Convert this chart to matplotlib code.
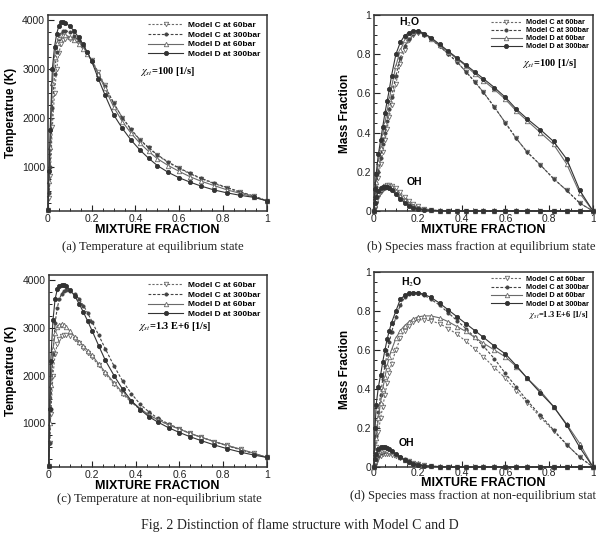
import matplotlib
matplotlib.use("Agg")
import matplotlib.pyplot as plt
from matplotlib.ticker import MultipleLocator

plt.rcParams['font.family'] = ['Liberation Sans', 'DejaVu Sans']
plt.rcParams['mathtext.fontset'] = 'stix'

# mixture fraction grid shared by all curves
Z = [0, .005, .01, .02, .03, .04, .05, .06, .07, .08, .10, .12, .14, .16, .18, .20,
     .23, .26, .30, .34, .38, .42, .46, .50, .55, .60, .65, .70, .76, .82, .88, .94, 1.0]

# (a) temperature, equilibrium
T_eq_C60 = [120, 350, 800, 1800, 2500, 3000, 3330, 3500, 3580, 3610, 3610, 3580, 3520, 3430, 3320, 3180,
            2930, 2660, 2300, 2000, 1750, 1540, 1380, 1230, 1080, 960, 850, 750, 650, 560, 470, 390, 300]
T_eq_C300 = [120, 450, 1000, 2200, 2900, 3350, 3600, 3720, 3770, 3780, 3750, 3680, 3580, 3460, 3320, 3150,
             2900, 2640, 2300, 2000, 1760, 1550, 1390, 1240, 1090, 970, 860, 760, 660, 570, 480, 400, 300]
T_eq_D60 = [120, 700, 1400, 2700, 3250, 3520, 3640, 3690, 3700, 3690, 3650, 3590, 3510, 3410, 3300, 3180,
            2900, 2600, 2220, 1920, 1680, 1480, 1310, 1160, 1020, 900, 790, 700, 610, 520, 450, 380, 300]
T_eq_D300 = [120, 900, 1750, 3000, 3450, 3720, 3880, 3950, 3960, 3940, 3870, 3770, 3640, 3500, 3340, 3150,
             2800, 2470, 2060, 1780, 1540, 1340, 1170, 1020, 880, 770, 680, 600, 520, 460, 410, 370, 300]

# (b) mass fraction, equilibrium
H2O_eq_C60 = [0, .05, .10, .17, .24, .30, .36, .42, .48, .54, .65, .75, .82, .87, .90, .91,
              .90, .875, .84, .80, .76, .71, .66, .605, .53, .45, .37, .30, .235, .165, .105, .04, 0]
H2O_eq_C300 = [0, .06, .12, .20, .27, .34, .40, .46, .52, .58, .69, .78, .84, .88, .905, .915,
               .90, .88, .84, .80, .76, .71, .66, .605, .53, .45, .37, .30, .235, .165, .105, .04, 0]
H2O_eq_D60 = [0, .08, .15, .25, .32, .39, .45, .51, .57, .63, .74, .82, .87, .90, .915, .92,
              .905, .88, .845, .81, .775, .74, .70, .665, .62, .57, .51, .46, .40, .34, .24, .09, 0]
H2O_eq_D300 = [0, .11, .19, .29, .36, .43, .50, .56, .62, .69, .80, .86, .895, .91, .92, .92,
               .905, .885, .85, .815, .78, .745, .71, .675, .63, .58, .52, .47, .415, .355, .265, .105, 0]
OH_eq_C60 = [0, .015, .035, .07, .095, .115, .128, .134, .135, .13, .115, .095, .072, .052, .036, .024,
             .012, .006, .002, 0, 0, 0, 0, 0, 0, 0, 0, 0, 0, 0, 0, 0, 0]
OH_eq_C300 = [0, .02, .045, .08, .10, .112, .118, .12, .118, .112, .095, .075, .055, .038, .025, .016,
              .008, .004, .001, 0, 0, 0, 0, 0, 0, 0, 0, 0, 0, 0, 0, 0, 0]
OH_eq_D60 = [0, .03, .06, .09, .11, .12, .128, .13, .127, .12, .10, .078, .056, .038, .025, .016,
             .009, .005, .002, 0, 0, 0, 0, 0, 0, 0, 0, 0, 0, 0, 0, 0, 0]
OH_eq_D300 = [0, .04, .07, .10, .115, .123, .125, .122, .115, .105, .085, .062, .042, .027, .017, .011,
              .006, .003, .001, 0, 0, 0, 0, 0, 0, 0, 0, 0, 0, 0, 0, 0, 0]

# (c) temperature, non-equilibrium
T_ne_C60 = [120, 600, 1200, 2000, 2450, 2660, 2770, 2830, 2850, 2850, 2830, 2760, 2670, 2570, 2470, 2380,
            2210, 2040, 1820, 1610, 1440, 1290, 1170, 1070, 970, 880, 790, 710, 620, 540, 460, 380, 290]
T_ne_C300 = [120, 600, 1300, 2450, 3100, 3420, 3600, 3710, 3760, 3780, 3760, 3700, 3600, 3460, 3300, 3120,
             2840, 2560, 2200, 1880, 1620, 1400, 1240, 1110, 990, 890, 790, 710, 620, 530, 450, 370, 290]
T_ne_D60 = [120, 1000, 1800, 2550, 2880, 3010, 3060, 3080, 3060, 3020, 2920, 2810, 2710, 2620, 2520, 2420,
            2240, 2070, 1850, 1640, 1460, 1310, 1180, 1080, 970, 880, 790, 710, 620, 540, 460, 380, 290]
T_ne_D300 = [120, 1300, 2300, 3150, 3600, 3800, 3880, 3900, 3890, 3860, 3780, 3660, 3500, 3320, 3130, 2930,
             2620, 2320, 2000, 1710, 1470, 1290, 1140, 1030, 910, 810, 720, 640, 550, 470, 400, 340, 290]

# (d) mass fraction, non-equilibrium
H2O_ne_C60 = [0, .05, .10, .18, .25, .31, .37, .43, .48, .53, .60, .66, .70, .725, .745, .755,
              .755, .75, .735, .71, .68, .645, .605, .565, .51, .455, .39, .33, .255, .185, .115, .05, 0]
H2O_ne_C300 = [0, .08, .16, .28, .37, .45, .52, .58, .64, .69, .77, .83, .87, .885, .89, .89,
               .88, .86, .83, .79, .75, .71, .665, .62, .555, .48, .41, .34, .265, .19, .115, .05, 0]
H2O_ne_D60 = [0, .08, .15, .25, .33, .40, .46, .52, .565, .60, .66, .70, .725, .745, .76, .77,
              .775, .775, .765, .745, .72, .695, .665, .635, .60, .565, .515, .455, .39, .31, .22, .12, 0]
H2O_ne_D300 = [0, .20, .32, .41, .47, .54, .60, .655, .70, .74, .80, .86, .88, .89, .895, .895,
               .885, .87, .84, .805, .77, .735, .70, .665, .62, .58, .52, .455, .38, .31, .215, .10, 0]
OH_ne_C60 = [0, .01, .025, .045, .058, .065, .068, .068, .066, .063, .056, .047, .038, .029, .022, .016,
             .009, .005, .002, 0, 0, 0, 0, 0, 0, 0, 0, 0, 0, 0, 0, 0, 0]
OH_ne_C300 = [0, .015, .03, .055, .07, .078, .082, .082, .079, .075, .064, .052, .04, .03, .021, .015,
              .008, .004, .002, 0, 0, 0, 0, 0, 0, 0, 0, 0, 0, 0, 0, 0, 0]
OH_ne_D60 = [0, .03, .05, .07, .082, .088, .09, .088, .083, .077, .064, .05, .038, .028, .02, .014,
             .008, .004, .002, 0, 0, 0, 0, 0, 0, 0, 0, 0, 0, 0, 0, 0, 0]
OH_ne_D300 = [0, .04, .065, .09, .10, .105, .103, .098, .09, .082, .065, .05, .036, .025, .017, .011,
              .006, .003, .001, 0, 0, 0, 0, 0, 0, 0, 0, 0, 0, 0, 0, 0, 0]

labels = ['Model C at 60bar', 'Model C at 300bar', 'Model D at 60bar', 'Model D at 300bar']
styles = [
    dict(color='#6a6a6a', ls=(0, (2, 1.5)), marker='v', mfc='white', ms=3.2),
    dict(color='#444444', ls=(0, (2.5, 1.5)), marker='o', mfc='#444444', ms=2.3),
    dict(color='#6a6a6a', ls='-', marker='^', mfc='white', ms=3.2),
    dict(color='#333333', ls='-', marker='o', mfc='#333333', ms=3.0),
]

fig = plt.figure(figsize=(5.96, 5.43), dpi=100)
ax_a = fig.add_axes([0.0805, 0.6114, 0.367, 0.361])
ax_b = fig.add_axes([0.6275, 0.6114, 0.3674, 0.361])
ax_c = fig.add_axes([0.0815, 0.1400, 0.366, 0.3536])
ax_d = fig.add_axes([0.6275, 0.1400, 0.3674, 0.3590])


def style_axes(ax, ylabel, temp, tpad, xpad):
    ax.set_xlim(0, 1)
    if temp:
        ax.set_ylim(90, 4100)
        ax.set_yticks([1000, 2000, 3000, 4000])
        ax.yaxis.set_minor_locator(MultipleLocator(250))
    else:
        ax.set_ylim(0, 1)
        ax.set_yticks([0, 0.2, 0.4, 0.6, 0.8, 1])
        ax.set_yticklabels(['0', '0.2', '0.4', '0.6', '0.8', '1'])
        ax.yaxis.set_minor_locator(MultipleLocator(0.05))
    ax.set_xticks([0, 0.2, 0.4, 0.6, 0.8, 1])
    ax.set_xticklabels(['0', '0.2', '0.4', '0.6', '0.8', '1'])
    ax.xaxis.set_minor_locator(MultipleLocator(0.05))
    ax.tick_params(direction='in', labelsize=7.5, length=4, width=0.8, pad=2, colors='#222222')
    ax.tick_params(axis='x', pad=tpad)
    ax.tick_params(which='minor', direction='in', length=2, width=0.6)
    for s in ax.spines.values():
        s.set_linewidth(1.1)
        s.set_color('#333333')
    ax.set_xlabel('MIXTURE FRACTION', fontsize=9, fontweight='bold', labelpad=xpad)
    ax.set_ylabel(ylabel, fontsize=8.5, fontweight='bold', labelpad=4)


def draw(ax, series):
    for ys, lab, st in zip(series, labels, styles):
        ax.plot(Z, ys, lw=0.8, mew=0.6, label=lab, clip_on=False, **st)


draw(ax_a, [T_eq_C60, T_eq_C300, T_eq_D60, T_eq_D300])
draw(ax_b, [H2O_eq_C60, H2O_eq_C300, H2O_eq_D60, H2O_eq_D300])
draw(ax_b, [OH_eq_C60, OH_eq_C300, OH_eq_D60, OH_eq_D300])
draw(ax_c, [T_ne_C60, T_ne_C300, T_ne_D60, T_ne_D300])
draw(ax_d, [H2O_ne_C60, H2O_ne_C300, H2O_ne_D60, H2O_ne_D300])
draw(ax_d, [OH_ne_C60, OH_ne_C300, OH_ne_D60, OH_ne_D300])

panels = [(ax_a, True, 6, 0.25, 0.3, 2, 0.5),
          (ax_b, False, 5.3, 0.12, 0.15, 2, 0.5),
          (ax_c, True, 6, 0.25, 0.3, 2, 0.5),
          (ax_d, False, 5.3, 0.15, 0.1, 1, -1)]
for ax, temp, lsize, lspace, pad, tpad, xpad in panels:
    style_axes(ax, 'Temperatrue (K)' if temp else 'Mass Fraction', temp, tpad, xpad)
    h, l = ax.get_legend_handles_labels()
    ax.legend(h[:4], l[:4], loc='upper right', bbox_to_anchor=(1.0, 1.0), frameon=False,
              prop=dict(size=lsize, weight='bold'), handlelength=4.2, labelspacing=lspace,
              handletextpad=0.6, borderaxespad=pad)

chi_kw = dict(fontweight='bold', family='Liberation Serif', va='center')
ax_a.text(0.42, 0.71, r'$\chi_{st}$=100 [1/s]', transform=ax_a.transAxes, fontsize=7.5, **chi_kw)
ax_b.text(0.675, 0.755, r'$\chi_{st}$=100 [1/s]', transform=ax_b.transAxes, fontsize=7.5, **chi_kw)
ax_c.text(0.41, 0.73, r'$\chi_{st}$=1.3 E+6 [1/s]', transform=ax_c.transAxes, fontsize=7.5, **chi_kw)
ax_d.text(0.71, 0.78, r'$\chi_{st}$=1.3 E+6 [1/s]', transform=ax_d.transAxes, fontsize=6, **chi_kw)

ax_b.text(0.164, 0.964, r'H$_2$O', transform=ax_b.transAxes, fontsize=7.5, fontweight='bold',
          ha='center', va='center')
ax_b.text(0.187, 0.148, 'OH', transform=ax_b.transAxes, fontsize=7.5, fontweight='bold',
          ha='center', va='center')
ax_d.text(0.174, 0.95, r'H$_2$O', transform=ax_d.transAxes, fontsize=7.5, fontweight='bold',
          ha='center', va='center')
ax_d.text(0.15, 0.123, 'OH', transform=ax_d.transAxes, fontsize=7.5, fontweight='bold',
          ha='center', va='center')

cap = dict(family='Liberation Serif', fontsize=9.1, va='center', color='#222222')
fig.text(0.256, 0.545, '(a) Temperature at equilibrium state', ha='center', **cap)
fig.text(0.807, 0.545, '(b) Species mass fraction at equilibrium state', ha='center', **cap)
fig.text(0.267, 0.081, '(c) Temperature at non-equilibrium state', ha='center', **cap)
fig.text(0.587, 0.087, '(d) Species mass fraction at non-equilibrium state', ha='left', **cap)
fig.text(0.503, 0.033, 'Fig. 2 Distinction of flame structure with Model C and D', ha='center',
         family='Liberation Serif', fontsize=10, va='center', color='#222222')

fig.savefig('out.png', dpi=100)
